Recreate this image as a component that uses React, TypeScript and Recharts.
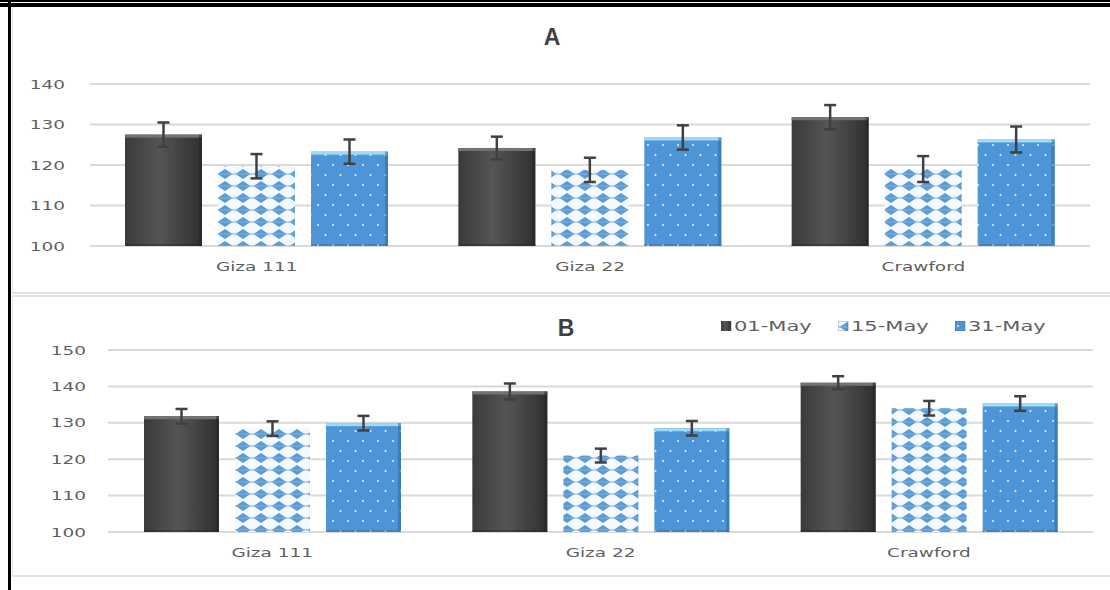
import React from 'react';
import { BarChart, Bar, XAxis, YAxis, CartesianGrid, ErrorBar, Legend } from 'recharts';

const cultivars = ['Giza 111', 'Giza 22', 'Crawford'];
const sowingDates = ['01-May', '15-May', '31-May'];

// panel A means and standard errors
const a01 = [127.5, 124.2, 131.8];
const a15 = [119.7, 118.8, 119.0];
const a31 = [123.3, 126.8, 126.3];
const a01Err = [3.0, 2.8, 3.0];
const a15Err = [3.0, 3.0, 3.2];
const a31Err = [3.0, 3.0, 3.2];

// panel B means and standard errors
const b01 = [131.8, 138.6, 141.0];
const b15 = [128.4, 121.0, 134.0];
const b31 = [129.9, 128.5, 135.3];
const b01Err = [2.0, 2.2, 1.8];
const b15Err = [2.0, 1.9, 2.0];
const b31Err = [2.0, 2.0, 2.0];

const ticksA = [100, 110, 120, 130, 140];
const ticksB = [100, 110, 120, 130, 140, 150];

const buildRows = (v1: number[], v2: number[], v3: number[], e1: number[], e2: number[], e3: number[]) =>
  cultivars.map((name, i) => ({
    name,
    d01: v1[i],
    d15: v2[i],
    d31: v3[i],
    e01: e1[i],
    e15: e2[i],
    e31: e3[i],
  }));

const rowsA = buildRows(a01, a15, a31, a01Err, a15Err, a31Err);
const rowsB = buildRows(b01, b15, b31, b01Err, b15Err, b31Err);

const FONT = '"DejaVu Sans", sans-serif';
const TEXT = '#5f5f5f';
const GRID = '#d9d9d9';
const STRETCH = 1.42;

const Fills = ({ id }: { id: string }) => (
  <defs>
    <linearGradient id={`${id}-dark`} x1="0" y1="0" x2="1" y2="0">
      <stop offset="0" stopColor="#3a3a3a" />
      <stop offset="0.45" stopColor="#555555" />
      <stop offset="1" stopColor="#2f2f2f" />
    </linearGradient>
    <pattern id={`${id}-check`} width="18" height="12" patternUnits="userSpaceOnUse">
      <rect width="18" height="12" fill="#f4f9fd" />
      <polygon points="9,1 16.5,6 9,11 1.5,6" fill="#5b9bd5" />
      <line x1="0" y1="6" x2="18" y2="6" stroke="#7fb2e0" strokeWidth="1" />
    </pattern>
    <pattern id={`${id}-dots`} width="15" height="20" patternUnits="userSpaceOnUse">
      <rect width="15" height="20" fill="#4d95d6" />
      <circle cx="3" cy="5" r="1" fill="#e8f4ff" />
      <circle cx="10.5" cy="15" r="1" fill="#e8f4ff" />
    </pattern>
  </defs>
);

// bar with a light top rim and a darker right edge
const makeShape = (rim: string, edge: string) => (props: any) => {
  const { x, y, width, height, fill } = props;
  if (!height || height <= 0) return <g />;
  return (
    <g>
      <rect x={x} y={y} width={width} height={height} fill={fill} />
      {rim && <rect x={x} y={y} width={width} height={3} fill={rim} />}
      {edge && <rect x={x + width - 3} y={y} width={3} height={height} fill={edge} opacity={0.55} />}
      {edge && <rect x={x} y={y + height - 2} width={width} height={2} fill={edge} opacity={0.4} />}
    </g>
  );
};

const darkShape = makeShape('#737373', '#262626');
const checkShape = makeShape('', '');
const dotShape = makeShape('#9fdaf6', '#2f6aa3');

// axis labels drawn with horizontally widened glyphs
const makeTick = (dy: string) => (props: any) => {
  const { x, y, payload, textAnchor } = props;
  return (
    <g transform={`translate(${x},${y}) scale(${STRETCH},1)`}>
      <text x={0} y={0} dy={dy} textAnchor={textAnchor} fill={TEXT} fontSize={13} fontFamily={FONT}>
        {payload.value}
      </text>
    </g>
  );
};
const xTick = makeTick('0.71em');
const yTick = makeTick('0.355em');

const LegendContent = ({ payload }: any) => (
  <div style={{ display: 'flex', fontFamily: FONT, fontSize: 14, color: TEXT }}>
    {(payload || []).map((p: any) => (
      <div key={p.value} style={{ width: 117, display: 'flex', alignItems: 'center' }}>
        <svg width={11} height={10} style={{ marginRight: 2 }}>
          <rect width={10} height={10} fill={p.color} stroke="#5a5a5a" strokeWidth={0.5} />
        </svg>
        <span style={{ display: 'inline-block', transform: `scaleX(${STRETCH + 0.08})`, transformOrigin: 'left center' }}>
          {p.value}
        </span>
      </div>
    ))}
  </div>
);

interface PanelProps {
  id: string;
  title: string;
  rows: any[];
  ticks: number[];
  top: number;
  height: number;
  margin: { top: number; right: number; bottom: number; left: number };
  yWidth: number;
  yTickMargin: number;
  barSize: number;
  titleX: number;
  titleY: number;
  legend?: boolean;
}

const Panel = (p: PanelProps) => {
  const errStyle = { stroke: '#404040', strokeWidth: 2.5, width: 6 };
  return (
    <div style={{ position: 'absolute', left: 0, top: p.top, width: 1110, height: p.height }}>
      <div
        style={{
          position: 'absolute',
          left: p.titleX - 20,
          top: p.titleY - 14,
          width: 40,
          textAlign: 'center',
          fontFamily: '"Liberation Sans", Arial, sans-serif',
          fontWeight: 'bold',
          fontSize: 23,
          color: '#404040',
        }}
      >
        {p.title}
      </div>
      <BarChart width={1110} height={p.height} data={p.rows} margin={p.margin} barSize={p.barSize} barGap={16}>
        <Fills id={p.id} />
        <CartesianGrid vertical={false} stroke={GRID} strokeWidth={2} />
        <XAxis dataKey="name" height={30} axisLine={false} tickLine={false} tickMargin={10} tick={xTick} />
        <YAxis
          width={p.yWidth}
          domain={[p.ticks[0], p.ticks[p.ticks.length - 1]]}
          ticks={p.ticks}
          interval={0}
          axisLine={false}
          tickLine={false}
          tickMargin={p.yTickMargin}
          tick={yTick}
        />
        {p.legend && (
          <Legend
            layout="horizontal"
            verticalAlign="middle"
            align="center"
            content={<LegendContent />}
            wrapperStyle={{ top: 22, left: 721, width: 360 }}
          />
        )}
        <Bar dataKey="d01" name={sowingDates[0]} fill={`url(#${p.id}-dark)`} shape={darkShape} isAnimationActive={false}>
          <ErrorBar dataKey="e01" direction="y" {...errStyle} />
        </Bar>
        <Bar dataKey="d15" name={sowingDates[1]} fill={`url(#${p.id}-check)`} shape={checkShape} isAnimationActive={false}>
          <ErrorBar dataKey="e15" direction="y" {...errStyle} />
        </Bar>
        <Bar dataKey="d31" name={sowingDates[2]} fill={`url(#${p.id}-dots)`} shape={dotShape} isAnimationActive={false}>
          <ErrorBar dataKey="e31" direction="y" {...errStyle} />
        </Bar>
      </BarChart>
    </div>
  );
};

export default function App() {
  return (
    <div style={{ position: 'absolute', left: 0, top: 0, width: 1110, height: 590, background: '#fff', overflow: 'hidden' }}>
      {/* page frame */}
      <div style={{ position: 'absolute', left: 0, top: 0, width: 1110, height: 2, background: '#000' }} />
      <div style={{ position: 'absolute', left: 0, top: 3, width: 1110, height: 4, background: '#000' }} />
      <div style={{ position: 'absolute', left: 8, top: 0, width: 3, height: 590, background: '#000' }} />
      {/* panel outlines */}
      <div style={{ position: 'absolute', left: 12, top: 8, width: 1100, height: 284, borderLeft: '1px solid #e3e3e3', borderBottom: '2px solid #e3e3e3' }} />
      <div style={{ position: 'absolute', left: 12, top: 295, width: 1100, height: 278, borderTop: '2px solid #e3e3e3', borderLeft: '1px solid #e3e3e3', borderBottom: '2px solid #e3e3e3' }} />

      <Panel
        id="pa"
        title="A"
        rows={rowsA}
        ticks={ticksA}
        top={0}
        height={292}
        margin={{ top: 84, right: 20, bottom: 16, left: 0 }}
        yWidth={90}
        yTickMargin={19}
        barSize={77}
        titleX={552}
        titleY={38}
      />
      <Panel
        id="pb"
        title="B"
        rows={rowsB}
        ticks={ticksB}
        top={296}
        height={280}
        margin={{ top: 54, right: 17, bottom: 14, left: 0 }}
        yWidth={108}
        yTickMargin={16}
        barSize={75}
        titleX={566}
        titleY={33}
        legend
      />
    </div>
  );
}
